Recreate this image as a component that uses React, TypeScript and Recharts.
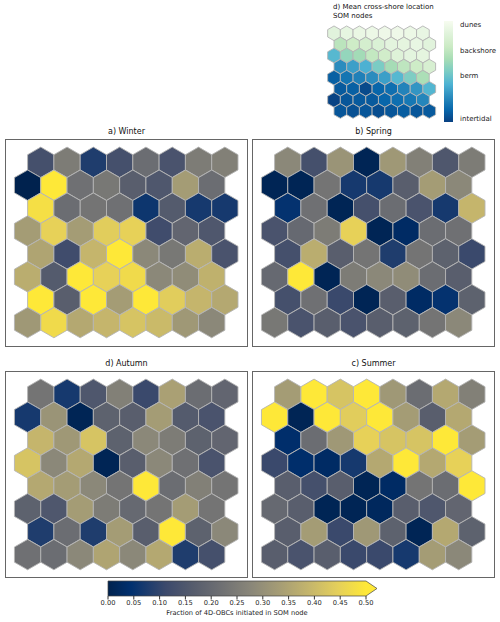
import React from "react";
import { ScatterChart, Scatter, XAxis, YAxis, BarChart, Bar } from "recharts";

const FONT = "'DejaVu Sans', sans-serif";

// fraction of 4D-OBCs per SOM node, rows top -> bottom, 8 nodes each
const winter = [
  [0.13, 0.25, 0.08, 0.13, 0.21, 0.14, 0.25, 0.26],
  [0.0, 0.5, 0.22, 0.24, 0.17, 0.15, 0.33, 0.21],
  [0.48, 0.21, 0.23, 0.22, 0.06, 0.16, 0.07, 0.07],
  [0.33, 0.45, 0.33, 0.44, 0.45, 0.12, 0.19, 0.15],
  [0.35, 0.12, 0.39, 0.5, 0.28, 0.24, 0.37, 0.14],
  [0.37, 0.16, 0.5, 0.45, 0.47, 0.28, 0.29, 0.38],
  [0.5, 0.17, 0.5, 0.33, 0.5, 0.44, 0.39, 0.36],
  [0.32, 0.47, 0.36, 0.39, 0.42, 0.4, 0.32, 0.28],
];

const spring = [
  [0.28, 0.13, 0.31, 0.01, 0.32, 0.26, 0.15, 0.25],
  [0.01, 0.01, 0.23, 0.07, 0.07, 0.17, 0.33, 0.28],
  [0.05, 0.22, 0.01, 0.13, 0.21, 0.14, 0.07, 0.39],
  [0.14, 0.2, 0.25, 0.45, 0.01, 0.03, 0.21, 0.22],
  [0.13, 0.37, 0.17, 0.23, 0.08, 0.23, 0.18, 0.11],
  [0.2, 0.5, 0.01, 0.25, 0.28, 0.29, 0.21, 0.17],
  [0.13, 0.22, 0.11, 0.01, 0.17, 0.03, 0.05, 0.18],
  [0.24, 0.14, 0.17, 0.14, 0.17, 0.18, 0.23, 0.28],
];

const autumn = [
  [0.23, 0.07, 0.15, 0.26, 0.11, 0.34, 0.21, 0.19],
  [0.07, 0.31, 0.01, 0.18, 0.17, 0.33, 0.16, 0.14],
  [0.39, 0.32, 0.42, 0.18, 0.28, 0.25, 0.18, 0.19],
  [0.42, 0.28, 0.36, 0.01, 0.17, 0.28, 0.22, 0.14],
  [0.36, 0.33, 0.28, 0.23, 0.5, 0.21, 0.26, 0.23],
  [0.18, 0.15, 0.33, 0.25, 0.2, 0.23, 0.33, 0.23],
  [0.08, 0.21, 0.08, 0.33, 0.17, 0.5, 0.18, 0.28],
  [0.22, 0.21, 0.28, 0.35, 0.28, 0.36, 0.08, 0.13],
];

const summer = [
  [0.33, 0.5, 0.42, 0.5, 0.32, 0.21, 0.36, 0.26],
  [0.5, 0.01, 0.5, 0.44, 0.5, 0.33, 0.17, 0.36],
  [0.04, 0.21, 0.32, 0.45, 0.42, 0.42, 0.5, 0.33],
  [0.11, 0.04, 0.03, 0.07, 0.36, 0.5, 0.36, 0.45],
  [0.17, 0.13, 0.17, 0.01, 0.03, 0.23, 0.21, 0.5],
  [0.2, 0.17, 0.01, 0.01, 0.02, 0.17, 0.15, 0.19],
  [0.17, 0.33, 0.11, 0.32, 0.18, 0.01, 0.36, 0.18],
  [0.17, 0.14, 0.17, 0.11, 0.11, 0.07, 0.33, 0.28],
];

// mean cross-shore location, 0 = intertidal, 1 = dunes
const meanLocation = [
  [0.88, 0.91, 0.93, 0.94, 0.95, 0.95, 0.94, 0.92],
  [0.69, 0.76, 0.8, 0.84, 0.89, 0.9, 0.92, 0.88],
  [0.4, 0.57, 0.61, 0.72, 0.78, 0.86, 0.89, 0.9],
  [0.25, 0.31, 0.37, 0.5, 0.62, 0.7, 0.76, 0.82],
  [0.1, 0.17, 0.21, 0.25, 0.31, 0.4, 0.51, 0.64],
  [0.08, 0.1, 0.03, 0.12, 0.15, 0.22, 0.28, 0.39],
  [0.01, 0.07, 0.08, 0.08, 0.12, 0.15, 0.18, 0.23],
  [0.07, 0.05, 0.07, 0.04, 0.07, 0.09, 0.07, 0.08],
];

const fractionTicks = [0, 0.05, 0.1, 0.15, 0.2, 0.25, 0.3, 0.35, 0.4, 0.45, 0.5];
const locationTicks = [0.03, 0.465, 0.71, 0.964];
const locationLabels = ["intertidal", "berm", "backshore", "dunes"];

const CIVIDIS: [number, string][] = [
  [0, "#00224e"],
  [0.09, "#00306f"],
  [0.222, "#3b496c"],
  [0.333, "#575d6d"],
  [0.444, "#707173"],
  [0.556, "#8a8779"],
  [0.667, "#a69d75"],
  [0.778, "#c4b56c"],
  [0.889, "#e4cf5b"],
  [1, "#fee838"],
];

const GNBU: [number, string][] = [
  [0, "#084081"],
  [0.125, "#0868ac"],
  [0.25, "#2b8cbe"],
  [0.375, "#4eb3d3"],
  [0.5, "#7bccc4"],
  [0.625, "#a8ddb5"],
  [0.75, "#ccebc5"],
  [0.875, "#e0f3db"],
  [1, "#f7fcf0"],
];

function rgb(h: string) {
  return [1, 3, 5].map((i) => parseInt(h.slice(i, i + 2), 16));
}

function colormap(stops: [number, string][], t: number) {
  const v = Math.max(0, Math.min(1, t));
  for (let i = 1; i < stops.length; i++) {
    if (v <= stops[i][0]) {
      const [t0, c0] = stops[i - 1];
      const [t1, c1] = stops[i];
      const f = (v - t0) / (t1 - t0);
      const a = rgb(c0);
      const b = rgb(c1);
      const m = a.map((x, k) => Math.round(x + (b[k] - x) * f));
      return `rgb(${m[0]},${m[1]},${m[2]})`;
    }
  }
  return stops[stops.length - 1][1];
}

const cividis = (v: number) => colormap(CIVIDIS, v / 0.5);
const gnbu = (v: number) => colormap(GNBU, v);

function toPoints(rows: number[][], shiftEven: boolean) {
  return rows.flatMap((row, r) =>
    row.map((v, c) => ({
      x: c + ((r % 2 === 0) === shiftEven ? 0.5 : 0),
      y: r,
      v,
    }))
  );
}

const hexShape = (radius: number, color: (v: number) => string) => (props: any) => {
  const { cx, cy, payload } = props;
  const pts: string[] = [];
  for (let k = 0; k < 6; k++) {
    const a = (Math.PI / 180) * (60 * k - 90);
    pts.push(`${cx + radius * Math.cos(a)},${cy + radius * Math.sin(a)}`);
  }
  return <polygon points={pts.join(" ")} fill={color(payload.v)} stroke="#b4b4b4" strokeWidth={0.9} />;
};

function HexGrid({ rows, width, height, xDomain, yDomain, radius, color, shiftEven }: any) {
  return (
    <ScatterChart width={width} height={height} margin={{ top: 0, right: 0, bottom: 0, left: 0 }}>
      <XAxis type="number" dataKey="x" domain={xDomain} hide allowDataOverflow />
      <YAxis type="number" dataKey="y" domain={yDomain} reversed hide allowDataOverflow />
      <Scatter data={toPoints(rows, shiftEven)} shape={hexShape(radius, color)} isAnimationActive={false} />
    </ScatterChart>
  );
}

const PANEL_W = 243;
const STEP = 26.3;

function SeasonPanel({ title, rows, left, top, height }: any) {
  const x0 = 22.6;
  const y0 = 23.3;
  const dy = 22.9;
  return (
    <div style={{ position: "absolute", left, top, width: PANEL_W, height }}>
      <div
        style={{
          position: "absolute",
          left: 0,
          top: -12,
          width: "100%",
          textAlign: "center",
          fontSize: 8,
          lineHeight: "10px",
          color: "#111",
        }}
      >
        {title}
      </div>
      <div style={{ position: "absolute", left: 0, top: 0 }}>
        <HexGrid
          rows={rows}
          width={PANEL_W}
          height={height}
          xDomain={[-x0 / STEP, (PANEL_W - x0) / STEP]}
          yDomain={[-y0 / dy, (height - y0) / dy]}
          radius={STEP / Math.sqrt(3)}
          color={cividis}
          shiftEven={true}
        />
      </div>
      <div
        style={{
          position: "absolute",
          inset: 0,
          border: "1px solid #666",
          boxSizing: "border-box",
          pointerEvents: "none",
        }}
      />
    </div>
  );
}

const fractionBarShape = (props: any) => {
  const { x, y, width, height } = props;
  const tip = 11;
  return (
    <g>
      <defs>
        <linearGradient id="cividisGrad" x1="0" y1="0" x2="1" y2="0">
          {CIVIDIS.map(([o, c]) => (
            <stop key={o} offset={o} stopColor={c} />
          ))}
        </linearGradient>
      </defs>
      <rect x={x} y={y} width={width} height={height} fill="url(#cividisGrad)" />
      <polygon
        points={`${x + width},${y} ${x + width + tip},${y + height / 2} ${x + width},${y + height}`}
        fill="#fee838"
      />
      <path
        d={`M${x},${y} L${x + width},${y} L${x + width + tip},${y + height / 2} L${x + width},${y + height} L${x},${y + height} Z`}
        fill="none"
        stroke="#444"
        strokeWidth={0.7}
      />
    </g>
  );
};

const locationBarShape = (props: any) => {
  const { x, y, width, height } = props;
  return (
    <g>
      <defs>
        <linearGradient id="gnbuGrad" x1="0" y1="1" x2="0" y2="0">
          {GNBU.map(([o, c]) => (
            <stop key={o} offset={o} stopColor={c} />
          ))}
        </linearGradient>
      </defs>
      <rect x={x} y={y} width={width} height={height} fill="url(#gnbuGrad)" />
    </g>
  );
};

export default function App() {
  return (
    <div
      style={{
        position: "absolute",
        left: 0,
        top: 0,
        width: 500,
        height: 622,
        background: "#fff",
        fontFamily: FONT,
        overflow: "hidden",
      }}
    >
      {/* inset: mean cross-shore location */}
      <div style={{ position: "absolute", left: 333, top: 3, fontSize: 7, lineHeight: "9px", color: "#111" }}>
        d) Mean cross-shore location
        <br />
        SOM nodes
      </div>
      <div style={{ position: "absolute", left: 320, top: 20 }}>
        <HexGrid
          rows={meanLocation}
          width={120}
          height={105}
          xDomain={[-14 / 12.7, (120 - 14) / 12.7]}
          yDomain={[-13.3 / 11.1, (105 - 13.3) / 11.1]}
          radius={12.7 / Math.sqrt(3)}
          color={gnbu}
          shiftEven={false}
        />
      </div>
      <div style={{ position: "absolute", left: 440, top: 18 }}>
        <BarChart
          width={60}
          height={107}
          data={[{ name: "location", value: 1 }]}
          margin={{ top: 3, right: 0, bottom: 3, left: 4 }}
          barCategoryGap={0}
        >
          <XAxis type="category" dataKey="name" hide />
          <YAxis
            type="number"
            orientation="right"
            width={47}
            domain={[0, 1]}
            ticks={locationTicks}
            tickFormatter={(v: number) => locationLabels[locationTicks.indexOf(v)]}
            axisLine={false}
            tickLine={false}
            tickSize={3}
            tickMargin={4}
            interval={0}
            tick={{ fontSize: 7, fill: "#222", fontFamily: FONT }}
          />
          <Bar dataKey="value" shape={locationBarShape} isAnimationActive={false} />
        </BarChart>
      </div>

      <SeasonPanel title="a) Winter" rows={winter} left={5} top={139} height={208} />
      <SeasonPanel title="b) Spring" rows={spring} left={252} top={139} height={208} />
      <SeasonPanel title="d) Autumn" rows={autumn} left={5} top={371} height={207} />
      <SeasonPanel title="c) Summer" rows={summer} left={252} top={371} height={207} />

      {/* shared colorbar, extended at the top end */}
      <div style={{ position: "absolute", left: 100, top: 578 }}>
        <BarChart
          width={290}
          height={44}
          layout="vertical"
          data={[{ name: "fraction", value: 0.5 }]}
          margin={{ top: 3, right: 24, bottom: 0, left: 8 }}
          barCategoryGap={0}
        >
          <XAxis
            type="number"
            domain={[0, 0.5]}
            ticks={fractionTicks}
            tickFormatter={(v: number) => v.toFixed(2)}
            interval={0}
            height={26}
            axisLine={false}
            tickSize={3.5}
            tickMargin={1}
            tickLine={{ stroke: "#333" }}
            tick={{ fontSize: 6.7, fill: "#222", fontFamily: FONT }}
          />
          <YAxis type="category" dataKey="name" hide />
          <Bar dataKey="value" shape={fractionBarShape} isAnimationActive={false} />
        </BarChart>
      </div>
      <div
        style={{
          position: "absolute",
          left: 87,
          top: 609,
          width: 300,
          textAlign: "center",
          fontSize: 6.7,
          lineHeight: "8px",
          color: "#222",
        }}
      >
        Fraction of 4D-OBCs initiated in SOM node
      </div>
    </div>
  );
}
